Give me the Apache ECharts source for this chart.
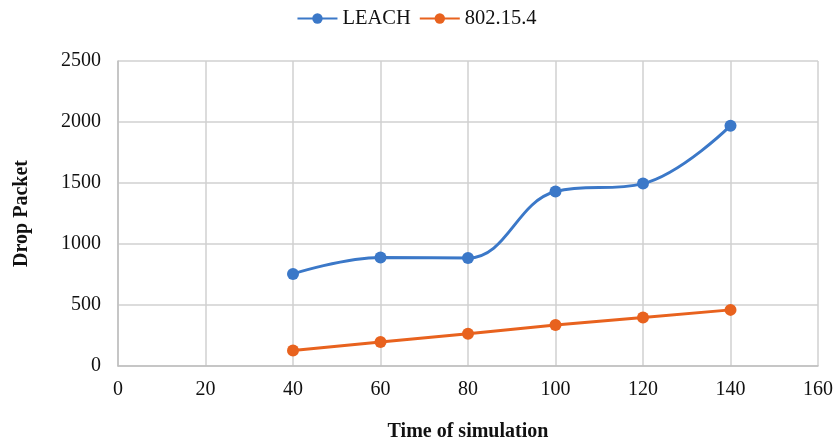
<!DOCTYPE html>
<html>
<head>
<meta charset="utf-8">
<script src="https://cdn.jsdelivr.net/npm/echarts@6/dist/echarts.min.js"></script>
<style>
  html, body { margin: 0; padding: 0; background: #fff; }
  #chart { width: 833px; height: 441px; }
</style>
</head>
<body>
<div id="chart"></div>
<script>
// simulation times (x) and drop packets per protocol
const times = [40, 60, 80, 100, 120, 140];
const leach = [755, 890, 885, 1430, 1495, 1970];
const ieee802 = [128, 197, 265, 337, 397, 460];

const serif = '"Liberation Serif", "Times New Roman", serif';

function pairs(xs, ys) {
  return xs.map((x, i) => [x, ys[i]]);
}

const myChart = echarts.init(document.getElementById('chart'));

const option = {
  backgroundColor: '#fff',
  animation: false,
  legend: {
    top: 3,
    left: 'center',
    padding: [5, 0, 5, 6],
    itemWidth: 40,
    itemHeight: 13,
    itemGap: 8,
    textStyle: { fontFamily: serif, fontSize: 20.5, color: '#111' },
    data: ['LEACH', '802.15.4']
  },
  grid: { left: 118, right: 15, top: 61, bottom: 75, outerBoundsMode: 'none', containLabel: false },
  xAxis: {
    type: 'value',
    min: 0,
    max: 160,
    interval: 20,
    name: 'Time of simulation',
    nameLocation: 'middle',
    nameGap: 56,
    nameTextStyle: { fontFamily: serif, fontSize: 20, fontWeight: 'bold', color: '#111' },
    axisLine: { show: true, lineStyle: { color: '#bfbfbf', width: 1.5 } },
    axisTick: { show: false },
    axisLabel: { fontFamily: serif, fontSize: 20, color: '#111', margin: 14 },
    splitLine: { show: true, lineStyle: { color: '#d0d0d0', width: 1.5 } }
  },
  yAxis: {
    type: 'value',
    min: 0,
    max: 2500,
    interval: 500,
    name: 'Drop Packet',
    nameLocation: 'middle',
    nameGap: 86,
    nameTextStyle: { fontFamily: serif, fontSize: 20, fontWeight: 'bold', color: '#111' },
    axisLine: { show: true, lineStyle: { color: '#bfbfbf', width: 1.5 } },
    axisTick: { show: false },
    axisLabel: {
      fontFamily: serif, fontSize: 20, color: '#111', margin: 17,
      formatter: v => String(v)
    },
    splitLine: { show: true, lineStyle: { color: '#d0d0d0', width: 1.5 } }
  },
  series: [
    {
      name: 'LEACH',
      type: 'line',
      smooth: 0.4,
      data: pairs(times, leach),
      symbol: 'circle',
      symbolSize: 12,
      lineStyle: { color: '#3b78c8', width: 3 },
      itemStyle: { color: '#3b78c8' }
    },
    {
      name: '802.15.4',
      type: 'line',
      data: pairs(times, ieee802),
      symbol: 'circle',
      symbolSize: 12,
      lineStyle: { color: '#e8621e', width: 3 },
      itemStyle: { color: '#e8621e' }
    }
  ]
};

myChart.setOption(option);
</script>
</body>
</html>
